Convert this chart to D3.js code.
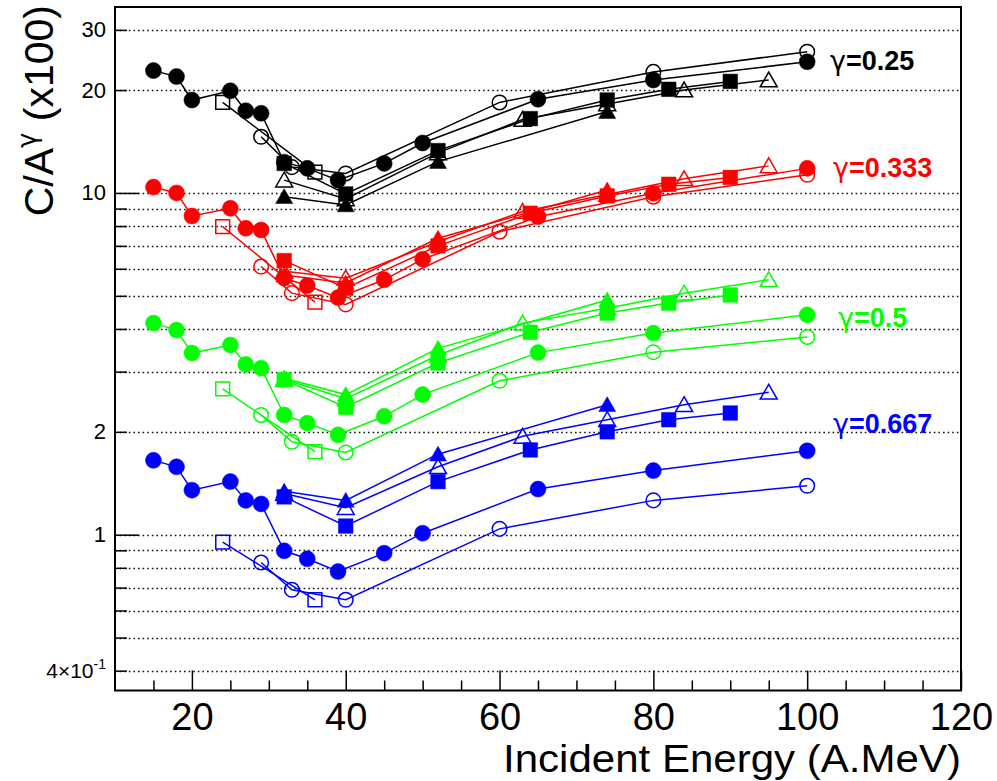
<!DOCTYPE html>
<html>
<head>
<meta charset="utf-8">
<script src="https://cdn.jsdelivr.net/npm/d3@7"></script>
<style>
  html, body { margin: 0; padding: 0; background: #fff; }
  svg { display: block; font-family: "Liberation Sans", Arial, Helvetica, sans-serif; }
</style>
</head>
<body>
<svg id="chart" width="997" height="781"></svg>
<script>
// ---------------- DATA ----------------
// x positions (incident energy, A.MeV) per marker type
const xFilledCircle   = [15, 18, 20, 25, 27, 29, 32, 35, 39, 45, 50, 65, 80, 100];
const xOpenCircle     = [29, 33, 40, 60, 80, 100];
const xOpenSquare     = [24, 36];
const xFilledSquare   = [32, 40, 52, 64, 74, 82, 90];
const xFilledTriangle = [32, 40, 52, 74];
const xOpenTriangle   = [32, 40, 52, 63, 74, 84, 95];

// gamma = 0.25 (black)
const g025FilledCircle   = [22.8, 21.9, 18.7, 19.9, 17.4, 17.1, 12.3, 11.8, 10.9, 12.2, 14.0, 18.8, 21.4, 24.2];
const g025OpenCircle     = [14.6, 11.9, 11.4, 18.4, 22.6, 25.9];
const g025OpenSquare     = [18.4, 11.5];
const g025FilledSquare   = [12.2, 9.93, 13.3, 16.5, 18.7, 20.1, 21.2];
const g025FilledTriangle = [9.75, 9.22, 12.35, 17.3];
const g025OpenTriangle   = [10.9, 9.6, 13.1, 16.4, 18.2, 20.0, 21.4];

// gamma = 0.333 (red)
const g0333FilledCircle   = [10.4, 10.0, 8.56, 9.02, 7.88, 7.79, 5.63, 5.36, 4.94, 5.57, 6.40, 8.52, 9.98, 11.8];
const g0333OpenCircle     = [6.09, 5.09, 4.72, 7.70, 9.75, 11.3];
const g0333OpenSquare     = [7.97, 4.79];
const g0333FilledSquare   = [6.34, 5.26, 7.0, 8.72, 9.80, 10.6, 11.1];
const g0333FilledTriangle = [5.75, 5.45, 7.37, 10.2];
const g0333OpenTriangle   = [5.9, 5.63, 7.2, 8.82, 9.9, 11.0, 12.0];

// gamma = 0.5 (green)
const g05FilledCircle   = [4.16, 3.97, 3.40, 3.59, 3.15, 3.07, 2.24, 2.12, 1.96, 2.22, 2.57, 3.41, 3.89, 4.40];
const g05OpenCircle     = [2.24, 1.87, 1.74, 2.82, 3.42, 3.79];
const g05OpenSquare     = [2.67, 1.75];
const g05FilledSquare   = [2.84, 2.36, 3.18, 3.91, 4.45, 4.76, 5.03];
const g05FilledTriangle = [2.87, 2.57, 3.51, 4.86];
const g05OpenTriangle   = [2.85, 2.5, 3.35, 4.16, 4.6, 5.09, 5.57];

// gamma = 0.667 (blue)
const g0667FilledCircle   = [1.65, 1.58, 1.35, 1.43, 1.26, 1.23, 0.897, 0.850, 0.780, 0.883, 1.01, 1.36, 1.54, 1.76];
const g0667OpenCircle     = [0.829, 0.690, 0.645, 1.04, 1.26, 1.39];
const g0667OpenSquare     = [0.951, 0.645];
const g0667FilledSquare   = [1.29, 1.06, 1.43, 1.77, 2.00, 2.17, 2.27];
const g0667FilledTriangle = [1.34, 1.26, 1.72, 2.40];
const g0667OpenTriangle   = [1.32, 1.20, 1.58, 1.94, 2.17, 2.40, 2.61];

// group labels
const groupGamma = ["0.25", "0.333", "0.5", "0.667"];
const groupColors = ["#000000", "#ff0000", "#00ff00", "#0000ff"];

// axis ticks
const xMajorTicks = [20, 40, 60, 80, 100, 120];
const xMinorTicks = [15, 25, 30, 35, 45, 50, 55, 65, 70, 75, 85, 90, 95, 105, 110, 115];
const yGridValues = [0.4, 0.5, 0.6, 0.7, 0.8, 0.9, 1, 2, 3, 4, 5, 6, 7, 8, 9, 10, 20, 30];
const yTickLabels = {0.4: "4×10", 1: "1", 2: "2", 10: "10", 20: "20", 30: "30"};

// ---------------- CHART ----------------
const svg = d3.select("#chart");
const L = 115, R = 961, T = 7, B = 690.5;
const x = d3.scaleLinear().domain([10, 120]).range([L, R]);
const y = d3.scaleLog().domain([0.35, 35]).range([B, T]);

// dotted horizontal grid
svg.append("g").selectAll("line").data(yGridValues).join("line")
  .attr("x1", L).attr("x2", R)
  .attr("y1", d => Math.round(y(d)) + 0.5).attr("y2", d => Math.round(y(d)) + 0.5)
  .attr("stroke", "#111").attr("stroke-width", 1.3)
  .attr("stroke-dasharray", "1.6,3");

// Y axis
const yAxis = d3.axisLeft(y).tickValues(yGridValues)
  .tickSizeInner(-12).tickSizeOuter(0).tickPadding(9)
  .tickFormat(d => yTickLabels[d] !== undefined ? yTickLabels[d] : "");
const gy = svg.append("g").attr("transform", `translate(${L},0)`).call(yAxis);
gy.select(".domain").remove();
gy.selectAll(".tick line")
  .attr("x2", d => (d === 1 || d === 10) ? 24 : 12)
  .attr("stroke", "#000").attr("stroke-width", 1.5);
gy.selectAll(".tick text")
  .attr("font-size", 22).attr("fill", "#000")
  .attr("font-family", "'Liberation Sans', Arial, sans-serif");
gy.selectAll(".tick text").filter(d => d === 0.4)
  .attr("font-size", 21)
  .append("tspan").attr("dy", -9).attr("font-size", 14).text("-1");

// X axis
const xAxisMajor = d3.axisBottom(x).tickValues(xMajorTicks)
  .tickSizeInner(-20).tickSizeOuter(0).tickPadding(13);
const gx = svg.append("g").attr("transform", `translate(0,${B})`).call(xAxisMajor);
gx.select(".domain").remove();
gx.selectAll(".tick line").attr("stroke", "#000").attr("stroke-width", 1.5);
gx.selectAll(".tick text").attr("font-size", 38).attr("fill", "#000")
  .attr("font-family", "'Liberation Sans', Arial, sans-serif");

const xAxisMinor = d3.axisBottom(x).tickValues(xMinorTicks)
  .tickSizeInner(-10).tickSizeOuter(0).tickFormat("");
const gx2 = svg.append("g").attr("transform", `translate(0,${B})`).call(xAxisMinor);
gx2.select(".domain").remove();
gx2.selectAll(".tick line").attr("stroke", "#000").attr("stroke-width", 1.5);

// frame
svg.append("rect").attr("x", L).attr("y", T).attr("width", R - L).attr("height", B - T)
  .attr("fill", "none").attr("stroke", "#000").attr("stroke-width", 2);

// axis titles
svg.append("text")
  .attr("x", R).attr("y", 772)
  .attr("text-anchor", "end").attr("font-size", 39).attr("fill", "#000")
  .attr("textLength", 458).attr("lengthAdjust", "spacingAndGlyphs")
  .text("Incident Energy (A.MeV)");

const yt = svg.append("text")
  .attr("transform", "translate(53,5) rotate(-90)")
  .attr("text-anchor", "end").attr("font-size", 41).attr("fill", "#000");
yt.append("tspan").text("C/A");
yt.append("tspan").attr("font-size", 26).attr("dy", -17)
  .attr("font-family", "'DejaVu Sans', sans-serif").text("γ");
yt.append("tspan").attr("dy", 17).text(" (x100)");

// markers
const line = d3.line().x(d => x(d[0])).y(d => y(d[1]));
const triPath = "M0,-8L8.5,6.8L-8.5,6.8Z";

function drawSeries(xs, ys, color, shape, filled) {
  const pts = xs.map((v, i) => [v, ys[i]]);
  const g = svg.append("g");
  g.append("path").datum(pts).attr("d", line)
    .attr("fill", "none").attr("stroke", color).attr("stroke-width", 1.5);
  const m = g.selectAll(".m").data(pts).join(shape === "circle" ? "circle" : "path")
    .attr("fill", filled ? color : "none")
    .attr("stroke", color).attr("stroke-width", filled ? 0.5 : 1.5);
  if (shape === "circle") {
    m.attr("cx", d => x(d[0])).attr("cy", d => y(d[1])).attr("r", filled ? 8 : 7.3);
  } else if (shape === "square") {
    const s = filled ? 7.3 : 6.9;
    m.attr("d", `M${-s},${-s}H${s}V${s}H${-s}Z`)
     .attr("transform", d => `translate(${x(d[0])},${y(d[1])})`);
  } else {
    m.attr("d", triPath)
     .attr("transform", d => `translate(${x(d[0])},${y(d[1])})`);
  }
}

const groups = [
  [g025OpenSquare, g025OpenCircle, g025FilledCircle, g025OpenTriangle, g025FilledTriangle, g025FilledSquare],
  [g0333OpenSquare, g0333OpenCircle, g0333FilledCircle, g0333OpenTriangle, g0333FilledTriangle, g0333FilledSquare],
  [g05OpenSquare, g05OpenCircle, g05FilledCircle, g05OpenTriangle, g05FilledTriangle, g05FilledSquare],
  [g0667OpenSquare, g0667OpenCircle, g0667FilledCircle, g0667OpenTriangle, g0667FilledTriangle, g0667FilledSquare]
];
const seriesX = [xOpenSquare, xOpenCircle, xFilledCircle, xOpenTriangle, xFilledTriangle, xFilledSquare];
const seriesShape = ["square", "circle", "circle", "triangle", "triangle", "square"];
const seriesFilled = [false, false, true, false, true, true];

groups.forEach((gs, gi) => {
  gs.forEach((ys, si) => {
    drawSeries(seriesX[si], ys, groupColors[gi], seriesShape[si], seriesFilled[si]);
  });
});

// group labels
const labelPos = [[830, 70], [833, 177], [838, 327], [833, 433]];
const lt = svg.append("g").selectAll("text").data(groupGamma).join("text")
  .attr("x", (d, i) => labelPos[i][0]).attr("y", (d, i) => labelPos[i][1])
  .attr("font-size", 27).attr("font-weight", "bold")
  .attr("fill", (d, i) => groupColors[i]);
lt.append("tspan").attr("font-family", "'DejaVu Sans', sans-serif").attr("font-weight", "normal").text("γ");
lt.append("tspan").text(d => "=" + d);
</script>
</body>
</html>
